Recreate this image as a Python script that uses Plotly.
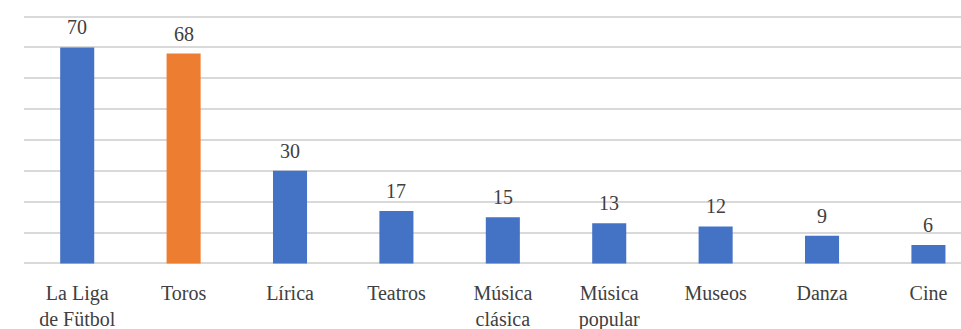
import plotly.graph_objects as go

# Categories and values
categories = ["La Liga<br>de Fütbol", "Toros", "Lírica", "Teatros", "Música<br>clásica",
              "Música<br>popular", "Museos", "Danza", "Cine"]
values = [70, 68, 30, 17, 15, 13, 12, 9, 6]
highlight = "Toros"

BLUE = "#4472C4"
ORANGE = "#ED7D31"
TEXT = "#404040"
GRID = "#D9D9D9"
FONT = "Liberation Serif, Times New Roman, serif"

colors = [ORANGE if c == highlight else BLUE for c in categories]
positions = list(range(len(categories)))

fig = go.Figure()
fig.add_trace(go.Bar(
    x=positions,
    y=values,
    marker=dict(color=colors, line=dict(width=0)),
    width=0.32,
    hoverinfo="skip",
))

# Value labels above each bar
for x, v in zip(positions, values):
    fig.add_annotation(
        x=x, y=v, text=str(v), showarrow=False,
        yanchor="bottom", yshift=7,
        font=dict(family=FONT, size=20, color=TEXT),
    )

fig.update_layout(
    width=961, height=329,
    margin=dict(l=24, r=0, t=15, b=64),
    plot_bgcolor="white", paper_bgcolor="white",
    showlegend=False,
    font=dict(family=FONT, size=20, color=TEXT),
    xaxis=dict(
        range=[-0.5, 8.306], automargin=False,
        tickmode="array", tickvals=positions, ticktext=categories,
        ticks="outside", ticklen=10, tickcolor="rgba(0,0,0,0)",
        showgrid=False, zeroline=False, showline=False,
        tickfont=dict(family=FONT, size=20, color=TEXT),
    ),
    yaxis=dict(
        range=[-0.5, 80.5], dtick=10, tick0=0, automargin=False,
        showticklabels=False, showgrid=True, gridcolor=GRID, gridwidth=1.5,
        zeroline=True, zerolinecolor=GRID, zerolinewidth=1.5,
        showline=False,
    ),
)

fig.write_html("out.html")
